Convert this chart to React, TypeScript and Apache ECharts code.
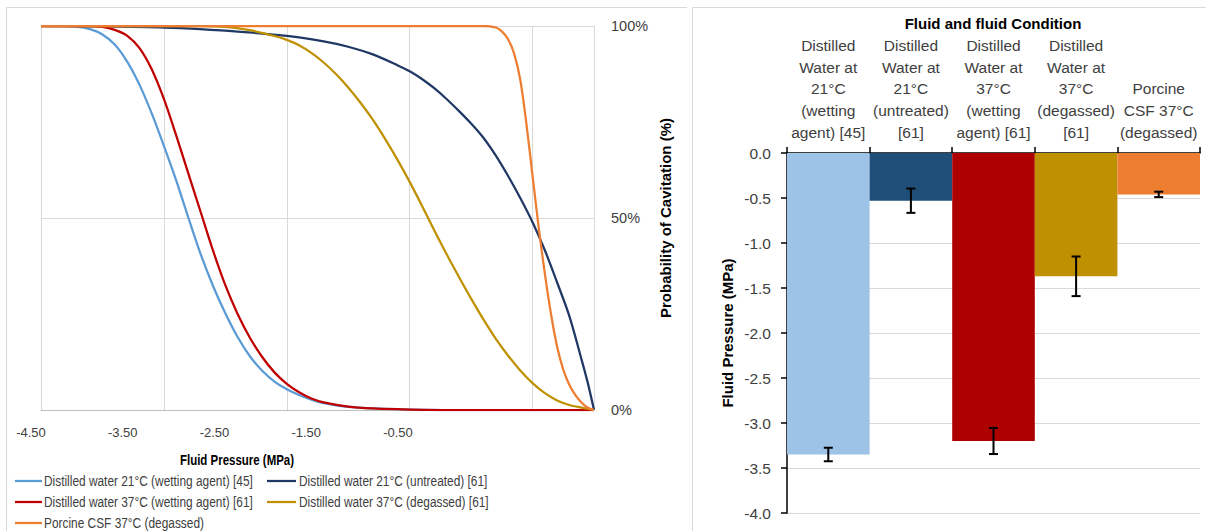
import React, { useEffect, useRef } from "react";
import * as echarts from "echarts";

// ---------- Left chart data: probability of cavitation (%) vs fluid pressure (MPa)
const seriesNames = [
  "Distilled water 21°C (wetting agent) [45]",
  "Distilled water 21°C (untreated) [61]",
  "Distilled water 37°C (wetting agent) [61]",
  "Distilled water 37°C (degassed) [61]",
  "Porcine CSF 37°C (degassed)",
];
const lineColors = ["#5B9BD5", "#203864", "#C00000", "#BF9000", "#ED7D31"];

const water21Wetting = [
  [-4.5, 100], [-4.3, 100], [-4.2, 99.8], [-4.1, 99.2], [-4.0, 97.8], [-3.9, 95.2],
  [-3.8, 90.8], [-3.7, 84.8], [-3.6, 77.3], [-3.5, 68.8], [-3.4, 59.8], [-3.3, 50.0],
  [-3.2, 40.5], [-3.1, 32.3], [-3.0, 25.2], [-2.9, 19.0], [-2.8, 14.0], [-2.7, 10.2],
  [-2.6, 7.4], [-2.5, 5.4], [-2.4, 3.9], [-2.3, 2.7], [-2.2, 1.8], [-2.0, 0.8],
  [-1.8, 0.4], [-1.6, 0.2], [-1.2, 0], [0, 0],
];
const water21Untreated = [
  [-4.5, 100], [-4.0, 99.9], [-3.5, 99.6], [-3.0, 98.8], [-2.5, 97.4], [-2.2, 96.0],
  [-2.0, 94.6], [-1.8, 92.6], [-1.6, 89.8], [-1.5, 88.2], [-1.4, 86.2], [-1.3, 83.8],
  [-1.2, 81.0], [-1.1, 77.9], [-1.0, 74.6], [-0.9, 70.9], [-0.8, 66.3], [-0.7, 61.0],
  [-0.6, 55.2], [-0.5, 48.9], [-0.4, 41.6], [-0.3, 33.2], [-0.2, 24.4], [-0.1, 13.0],
  [-0.05, 7.0], [0, 0],
];
const water37Wetting = [
  [-4.5, 100], [-4.1, 100], [-4.0, 99.8], [-3.9, 99.0], [-3.8, 97.5], [-3.7, 94.3],
  [-3.6, 88.8], [-3.5, 81.0], [-3.4, 71.5], [-3.3, 61.5], [-3.2, 51.5], [-3.1, 41.5],
  [-3.0, 32.5], [-2.9, 25.0], [-2.8, 18.8], [-2.7, 13.8], [-2.6, 9.8], [-2.5, 6.8],
  [-2.4, 4.6], [-2.3, 3.0], [-2.2, 2.0], [-2.0, 0.9], [-1.8, 0.4], [-1.6, 0.2],
  [-1.2, 0], [0, 0],
];
const water37Degassed = [
  [-4.5, 100], [-3.2, 100], [-3.0, 99.8], [-2.8, 98.9], [-2.6, 97.4], [-2.5, 96.4],
  [-2.4, 95.0], [-2.3, 93.0], [-2.2, 90.5], [-2.1, 87.5], [-2.0, 84.0], [-1.9, 80.0],
  [-1.8, 75.6], [-1.7, 70.6], [-1.6, 65.2], [-1.5, 59.4], [-1.4, 53.2], [-1.3, 46.8],
  [-1.2, 40.6], [-1.1, 34.7], [-1.0, 29.0], [-0.9, 23.6], [-0.8, 18.6], [-0.7, 14.2],
  [-0.6, 10.3], [-0.5, 7.0], [-0.4, 4.4], [-0.3, 2.5], [-0.2, 1.3], [-0.1, 0.6], [0, 0],
];
const porcineCSF = [
  [-4.5, 100], [-0.9, 100], [-0.8, 99.6], [-0.75, 98.6], [-0.7, 96.6], [-0.65, 92.8],
  [-0.6, 86.0], [-0.55, 74.5], [-0.5, 61.0], [-0.45, 47.5], [-0.4, 35.5], [-0.35, 25.0],
  [-0.3, 16.5], [-0.25, 10.5], [-0.2, 6.5], [-0.15, 3.8], [-0.1, 1.9], [-0.05, 0.6], [0, 0],
];
const curves = [water21Wetting, water21Untreated, water37Wetting, water37Degassed, porcineCSF];

const pressureLabelTicks = [-4.5, -3.5, -2.5, -1.5, -0.5];
const pressureGridTicks = [-4.5, -3.5, -2.5, -1.5, -0.5, 0];

// ---------- Right chart data
const barCategories = [
  "Distilled\nWater at\n21°C\n(wetting\nagent) [45]",
  "Distilled\nWater at\n21°C\n(untreated)\n[61]",
  "Distilled\nWater at\n37°C\n(wetting\nagent) [61]",
  "Distilled\nWater at\n37°C\n(degassed)\n[61]",
  "Porcine\nCSF 37°C\n(degassed)",
];
const barValues = [-3.35, -0.53, -3.2, -1.37, -0.46];
const barErrors = [0.075, 0.135, 0.145, 0.22, 0.03];
const barColors = ["#9DC3E6", "#1F4E79", "#AE0000", "#BF9000", "#ED7D31"];

const SANS = "'Liberation Sans', Arial, sans-serif";
const TXT = "#404040";
const GRID = "#D9D9D9";
const SQUEEZE = 0.82; // the left panel's texts are horizontally condensed

// legend layout (left panel, two columns)
const legendCols = [
  { lineX: 15, lineLen: 27, textX: 44 },
  { lineX: 267, lineLen: 29, textX: 299 },
];
const legendRows = [481, 502, 523];
const legendSlots = [
  [0, 0], [1, 0], [0, 1], [1, 1], [0, 2],
]; // [column, row] for each series, in series order

export default function App() {
  const ref = useRef<HTMLDivElement>(null);
  useEffect(() => {
    if (!ref.current) return;
    const chart = echarts.init(ref.current, null, { renderer: "svg" });

    const lineSeries = curves.map((d, i) => ({
      type: "line",
      name: seriesNames[i],
      xAxisIndex: 0,
      yAxisIndex: 0,
      data: d,
      symbol: "none",
      smooth: 0.3,
      clip: true,
      color: lineColors[i],
      lineStyle: { width: 2.25, color: lineColors[i] },
      itemStyle: { color: lineColors[i] },
      z: 2 + i,
    }));

    const legendGraphics: any[] = [];
    seriesNames.forEach((name, i) => {
      const [c, r] = legendSlots[i];
      const col = legendCols[c];
      const y = legendRows[r];
      legendGraphics.push({
        type: "line",
        shape: { x1: col.lineX, y1: y, x2: col.lineX + col.lineLen, y2: y },
        style: { stroke: lineColors[i], lineWidth: 2.25 },
      });
      legendGraphics.push({
        type: "group",
        x: col.textX,
        y,
        scaleX: SQUEEZE,
        children: [
          {
            type: "text",
            style: {
              text: name,
              align: "left",
              verticalAlign: "middle",
              fontFamily: SANS,
              fontSize: 14.5,
              fill: TXT,
            },
          },
        ],
      });
    });

    const errData = barValues.map((v, i) => [i, v - barErrors[i], v + barErrors[i]]);

    const option: any = {
      animation: false,
      backgroundColor: "#ffffff",
      grid: [
        { left: 41, top: 26, width: 553, height: 384, outerBoundsMode: "none" },
        { left: 31, top: 26, width: 367, height: 384, outerBoundsMode: "none" },
        { left: 787, top: 153, width: 413, height: 360, outerBoundsMode: "none" },
      ],
      xAxis: [
        {
          gridIndex: 0,
          type: "value",
          min: -4.5,
          max: 0,
          axisLine: { show: true, onZero: false, lineStyle: { color: "#BFBFBF", width: 1 } },
          axisTick: { show: false, customValues: pressureGridTicks },
          axisLabel: { show: false },
          splitLine: { show: true, lineStyle: { color: GRID, width: 1 } },
        },
        {
          gridIndex: 1,
          type: "value",
          min: -4.5,
          max: -0.5,
          axisLine: { show: false },
          axisTick: { show: false },
          splitLine: { show: false },
          axisLabel: {
            customValues: pressureLabelTicks,
            showMinLabel: true,
            showMaxLabel: true,
            formatter: (v: number) => v.toFixed(2),
            margin: 16,
            fontFamily: SANS,
            fontSize: 13,
            color: TXT,
          },
        },
        {
          gridIndex: 2,
          type: "category",
          position: "top",
          data: barCategories,
          axisLine: { show: true, onZero: false, lineStyle: { color: "#000", width: 1.5 } },
          axisTick: { show: true, length: 6, lineStyle: { color: "#000", width: 1.5 } },
          axisLabel: {
            interval: 0,
            margin: 10,
            fontFamily: SANS,
            fontSize: 15.5,
            lineHeight: 21.7,
            color: TXT,
          },
          splitLine: { show: false },
        },
      ],
      yAxis: [
        {
          gridIndex: 0,
          type: "value",
          position: "right",
          min: 0,
          max: 100,
          interval: 50,
          axisLine: { show: false },
          axisTick: { show: false },
          axisLabel: {
            formatter: "{value}%",
            margin: 17,
            fontFamily: SANS,
            fontSize: 14.5,
            color: TXT,
          },
          splitLine: { show: true, lineStyle: { color: GRID, width: 1 } },
          name: "Probability of Cavitation (%)",
          nameLocation: "middle",
          nameRotate: 90,
          nameGap: 64,
          nameTextStyle: { fontFamily: SANS, fontWeight: "bold", fontSize: 15, color: "#000" },
        },
        { gridIndex: 1, type: "value", show: false, min: 0, max: 1 },
        {
          gridIndex: 2,
          type: "value",
          min: -4,
          max: 0,
          interval: 0.5,
          axisLine: { show: true, lineStyle: { color: "#000", width: 1.5 } },
          axisTick: { show: true, length: 6, lineStyle: { color: "#000", width: 1.5 } },
          axisLabel: {
            formatter: (v: number) => (Math.abs(v) < 1e-9 ? "0.0" : v.toFixed(1)),
            margin: 16,
            fontFamily: SANS,
            fontSize: 15.5,
            color: TXT,
          },
          splitLine: { show: true, lineStyle: { color: GRID, width: 1 } },
          name: "Fluid Pressure (MPa)",
          nameLocation: "middle",
          nameRotate: 90,
          nameGap: 52,
          nameTextStyle: { fontFamily: SANS, fontWeight: "bold", fontSize: 15, color: "#000" },
        },
      ],
      graphic: [
        { type: "line", shape: { x1: 6.5, y1: 7.5, x2: 6.5, y2: 531 }, style: { stroke: GRID, lineWidth: 1 } },
        { type: "line", shape: { x1: 6.5, y1: 7.5, x2: 687, y2: 7.5 }, style: { stroke: GRID, lineWidth: 1 } },
        { type: "line", shape: { x1: 692.5, y1: 7.5, x2: 692.5, y2: 531 }, style: { stroke: GRID, lineWidth: 1 } },
        { type: "line", shape: { x1: 692.5, y1: 7.5, x2: 1206, y2: 7.5 }, style: { stroke: GRID, lineWidth: 1 } },
        {
          type: "group",
          x: 237,
          y: 460,
          scaleX: SQUEEZE,
          children: [
            {
              type: "text",
              style: {
                text: "Fluid Pressure (MPa)",
                align: "center",
                verticalAlign: "middle",
                fontFamily: SANS,
                fontWeight: "bold",
                fontSize: 14,
                fill: "#000",
              },
            },
          ],
        },
        {
          type: "text",
          x: 993,
          y: 23,
          style: {
            text: "Fluid and fluid Condition",
            align: "center",
            verticalAlign: "middle",
            fontFamily: SANS,
            fontWeight: "bold",
            fontSize: 15,
            fill: "#000",
          },
        },
        ...legendGraphics,
      ],
      series: [
        ...lineSeries,
        {
          type: "bar",
          xAxisIndex: 2,
          yAxisIndex: 2,
          barCategoryGap: 0,
          barGap: 0,
          data: barValues.map((v, i) => ({ value: v, itemStyle: { color: barColors[i] } })),
          z: 2,
        },
        {
          type: "custom",
          xAxisIndex: 2,
          yAxisIndex: 2,
          data: errData,
          encode: { x: 0, y: [1, 2] },
          z: 5,
          renderItem: (params: any, api: any) => {
            const idx = api.value(0);
            const lo = api.coord([idx, api.value(1)]);
            const hi = api.coord([idx, api.value(2)]);
            const w = 4.5;
            const st = { stroke: "#000", lineWidth: 2 };
            return {
              type: "group",
              children: [
                { type: "line", shape: { x1: lo[0], y1: lo[1], x2: hi[0], y2: hi[1] }, style: st },
                { type: "line", shape: { x1: lo[0] - w, y1: lo[1], x2: lo[0] + w, y2: lo[1] }, style: st },
                { type: "line", shape: { x1: hi[0] - w, y1: hi[1], x2: hi[0] + w, y2: hi[1] }, style: st },
              ],
            };
          },
        },
      ],
    };

    chart.setOption(option);
    return () => chart.dispose();
  }, []);

  return (
    <div
      ref={ref}
      style={{ position: "absolute", left: 0, top: 0, width: 1206, height: 531, background: "#fff" }}
    />
  );
}
